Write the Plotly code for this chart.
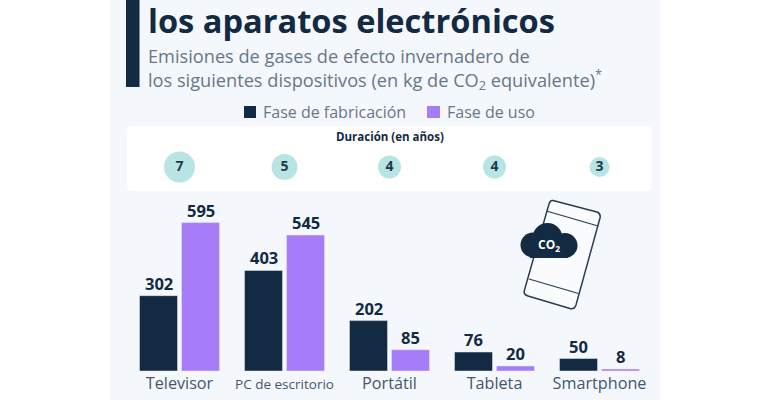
import plotly.graph_objects as go

categories = ["Televisor", "PC de escritorio", "Portátil", "Tableta", "Smartphone"]
tick_labels = ["Televisor", '<span style="font-size:13.5px">PC de escritorio</span>', "Portátil", "Tableta", "Smartphone"]
fabricacion = [302, 403, 202, 76, 50]
uso = [595, 545, 85, 20, 8]
duracion = [7, 5, 4, 4, 3]
duracion_size = [31, 26, 23, 23, 20]
series_names = ["Fase de fabricación", "Fase de uso"]

DARK = "#122a42"
PURPLE = "#a67cf8"
TEAL = "#b8e5e3"
PANEL = "#f4f7fb"
GREY = "#66778a"
FONT = "Open Sans"
W, H = 768, 400

def px(x):
    return x / W
def py(y):
    return 1 - y / H

def rect(x0, y0, x1, y1, color):
    return dict(type="rect", xref="paper", yref="paper", x0=px(x0), x1=px(x1), y0=py(y0), y1=py(y1),
                fillcolor=color, line_width=0, layer="below")

def path(d, fill=None, line=None, lw=1.5, layer="above"):
    s = dict(type="path", xref="paper", yref="paper", path=d, layer=layer,
             fillcolor=fill if fill else "rgba(0,0,0,0)")
    s["line"] = dict(color=line, width=lw) if line else dict(width=0)
    return s

def P(pts, close=False):
    out = []
    for i, (cmd, *vals) in enumerate(pts):
        coords = [f"{px(vals[j]):.5f},{py(vals[j+1]):.5f}" for j in range(0, len(vals), 2)]
        out.append(cmd + " ".join(coords))
    return " ".join(out) + (" Z" if close else "")

def circle(cx, cy, r, color):
    return dict(type="circle", xref="paper", yref="paper", x0=px(cx-r), x1=px(cx+r), y0=py(cy+r), y1=py(cy-r),
                fillcolor=color, line_width=0, layer="above")

PHONE = "#2a3d52"
shapes = [
    rect(110, 0, 660, 400, PANEL),
    rect(126, 0, 139.5, 87, DARK),
    path(P([("M", 132, 126), ("L", 647, 126), ("Q", 652, 126, 652, 131), ("L", 652, 186), ("Q", 652, 191, 647, 191),
            ("L", 132, 191), ("Q", 127, 191, 127, 186), ("L", 127, 131), ("Q", 127, 126, 132, 126)], True),
         fill="#ffffff", layer="below"),
    rect(244, 106, 256, 118, DARK),
    rect(427, 106, 440, 118, PURPLE),
    # phone
    path(P([("M", 553, 200.5), ("L", 597, 212), ("Q", 601, 213.5, 600, 218), ("L", 576, 305),
            ("Q", 574.5, 309.5, 570, 308.5), ("L", 528, 296), ("Q", 523, 294.5, 524.5, 290), ("L", 549, 204),
            ("Q", 550, 200, 553, 200.5)], True), fill="#f9fbfd", line=PHONE, lw=1.5),
    path(P([("M", 546.5, 211), ("L", 598, 226)]), line=PHONE, lw=1.3),
    path(P([("M", 529, 279), ("L", 578.5, 293.5)]), line=PHONE, lw=1.3),
    # cloud
    circle(547.5, 238, 15, DARK),
    circle(533, 245, 12.5, DARK),
    circle(565, 245.5, 12.5, DARK),
    path(P([("M", 530, 240), ("L", 568, 240), ("L", 568, 258), ("L", 530, 258)], True), fill=DARK),
]

annotations = [
    dict(x=px(146), y=py(21), text="<b>los aparatos electrónicos</b>", font=dict(size=32.6, color=DARK)),
    dict(x=px(146), y=py(68.5), align="left",
         text='Emisiones de gases de efecto invernadero de<br>'
              'los siguientes dispositivos (en kg de CO<sub>2</sub> equivalente)<sup>*</sup>',
         font=dict(size=18.2, color=GREY)),
    dict(x=px(261), y=py(112), text=series_names[0], font=dict(size=16, color=GREY)),
    dict(x=px(445), y=py(112), text=series_names[1], font=dict(size=16, color=GREY)),
    dict(x=px(390), y=py(136), text="<b>Duración (en años)</b>", font=dict(size=11.5, color=DARK), xanchor="center"),
    dict(x=px(548.5), y=py(245), text="<b>CO<sub>2</sub></b>", font=dict(size=12, color="#ffffff"), xanchor="center"),
]
for a in annotations:
    a.update(xref="paper", yref="paper", showarrow=False, yanchor="middle")
    a.setdefault("xanchor", "left")

for values, shift in ((fabricacion, -21), (uso, 21)):
    for cat, val in zip(categories, values):
        annotations.append(dict(x=cat, y=val, xref="x", yref="y", text=f"<b>{val}</b>", showarrow=False,
                                xanchor="center", yanchor="bottom", xshift=shift, yshift=-1,
                                font=dict(size=16.5, color=DARK)))

fig = go.Figure()
fig.add_bar(x=categories, y=fabricacion, name=series_names[0], marker_color=DARK)
fig.add_bar(x=categories, y=uso, name=series_names[1], marker_color=PURPLE)
fig.add_scatter(x=categories, y=[0]*5, yaxis="y2", mode="markers+text", text=duracion, textposition="middle center",
                marker=dict(size=duracion_size, color=TEAL, opacity=1, line_width=0),
                textfont=dict(size=14, color="#1f3b4a", family=FONT, weight=700), showlegend=False, hoverinfo="skip")

fig.update_layout(
    width=W, height=H, margin=dict(l=0, r=0, t=0, b=0), autosize=False,
    paper_bgcolor="#ffffff", plot_bgcolor="rgba(0,0,0,0)",
    font=dict(family=FONT, color=GREY),
    barmode="group", bargap=0.2, bargroupgap=0.095, showlegend=False,
    xaxis=dict(domain=[127/W, 652/W], type="category", tickmode="array", tickvals=categories, ticktext=tick_labels,
               tickfont=dict(size=16.2, color="#42576b"), showgrid=False, zeroline=False, showline=False, ticks="",
               fixedrange=True, ticklabelstandoff=1),
    yaxis=dict(domain=[py(371), py(200)], range=[0, 171/0.2494], visible=False, fixedrange=True),
    yaxis2=dict(domain=[py(187), py(147)], range=[-1, 1], visible=False, fixedrange=True, anchor="x"),
    shapes=shapes, annotations=annotations,
)
fig.write_html("out.html", post_script="document.body.style.margin='0';", config={"displayModeBar": False})
